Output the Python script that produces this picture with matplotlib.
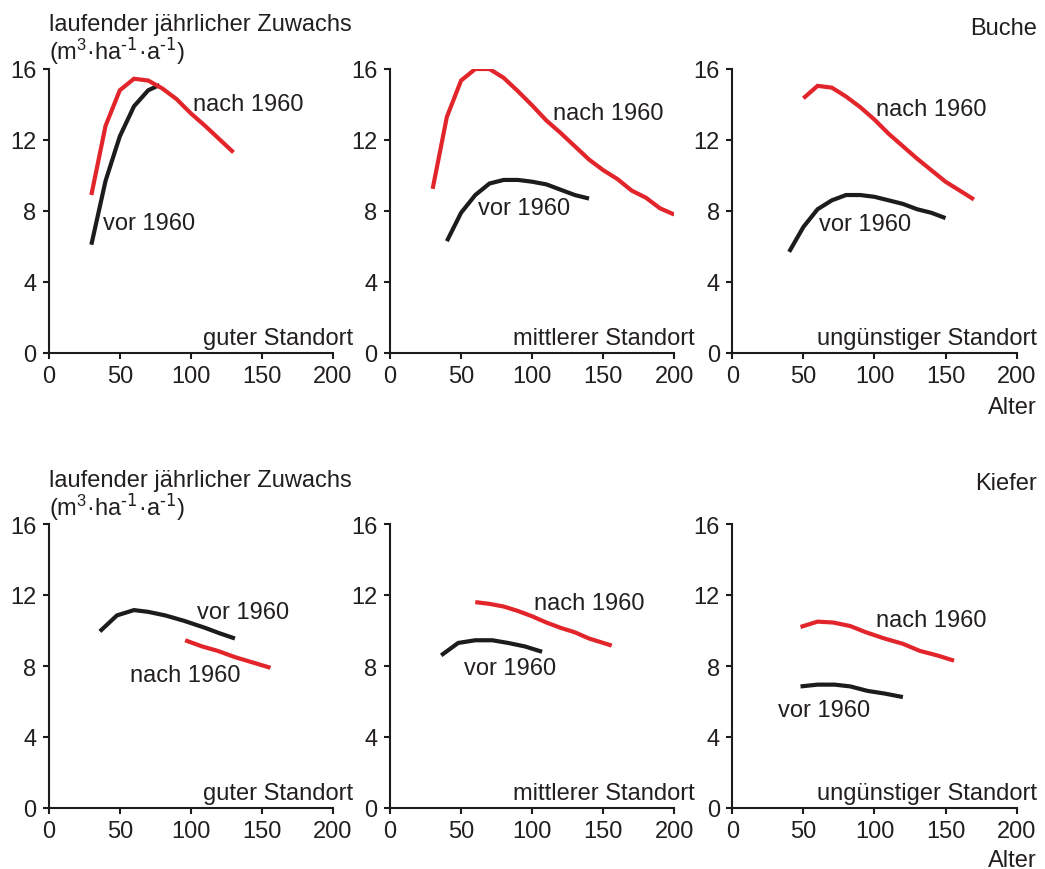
import matplotlib
matplotlib.use("Agg")
import matplotlib.pyplot as plt

plt.rcParams["font.family"] = ["Liberation Sans", "DejaVu Sans"]
plt.rcParams["mathtext.default"] = "regular"

RED = "#e2252b"
BLACK = "#1c1c1c"
TEXT = "#231f20"

# Age (years) and current annual increment (m3/ha/a)
buche_gut_vor_x = [30, 40, 50, 60, 70, 78]
buche_gut_vor_y = [6.1, 9.7, 12.2, 13.9, 14.8, 15.1]
buche_gut_nach_x = [30, 40, 50, 60, 70, 80, 90, 100, 110, 120, 130]
buche_gut_nach_y = [8.9, 12.8, 14.8, 15.45, 15.35, 14.9, 14.3, 13.5, 12.8, 12.05, 11.3]

buche_mittel_vor_x = [40, 50, 60, 70, 80, 90, 100, 110, 120, 130, 140]
buche_mittel_vor_y = [6.3, 7.9, 8.9, 9.55, 9.75, 9.75, 9.65, 9.5, 9.2, 8.9, 8.7]
buche_mittel_nach_x = [30, 40, 50, 60, 70, 80, 90, 100, 110, 120, 130, 140,
                       150, 160, 170, 180, 190, 200]
buche_mittel_nach_y = [9.25, 13.3, 15.35, 16.0, 16.0, 15.5, 14.75, 13.95, 13.1,
                       12.4, 11.65, 10.9, 10.3, 9.8, 9.15, 8.75, 8.15, 7.8]

buche_ungu_vor_x = [40, 50, 60, 70, 80, 90, 100, 110, 120, 130, 140, 150]
buche_ungu_vor_y = [5.7, 7.1, 8.1, 8.6, 8.9, 8.9, 8.8, 8.6, 8.4, 8.1, 7.9, 7.6]
buche_ungu_nach_x = [50, 60, 70, 80, 90, 100, 110, 120, 130, 140, 150, 160, 170]
buche_ungu_nach_y = [14.35, 15.05, 14.95, 14.45, 13.85, 13.15, 12.35, 11.65,
                     10.95, 10.3, 9.65, 9.15, 8.65]

kiefer_gut_vor_x = [36, 48, 60, 70, 82, 95, 110, 120, 131]
kiefer_gut_vor_y = [9.95, 10.85, 11.15, 11.05, 10.85, 10.55, 10.15, 9.85, 9.55]
kiefer_gut_nach_x = [96, 108, 119, 131, 156]
kiefer_gut_nach_y = [9.45, 9.1, 8.85, 8.5, 7.9]

kiefer_mittel_vor_x = [36, 48, 60, 72, 83, 95, 107]
kiefer_mittel_vor_y = [8.6, 9.3, 9.45, 9.45, 9.3, 9.1, 8.8]
kiefer_mittel_nach_x = [60, 70, 80, 90, 100, 110, 120, 130, 140, 150, 156]
kiefer_mittel_nach_y = [11.6, 11.5, 11.35, 11.1, 10.8, 10.45, 10.15, 9.9, 9.55,
                        9.3, 9.15]

kiefer_ungu_vor_x = [48, 60, 72, 83, 95, 107, 120]
kiefer_ungu_vor_y = [6.85, 6.95, 6.95, 6.85, 6.6, 6.45, 6.25]
kiefer_ungu_nach_x = [48, 60, 71, 83, 94, 107, 120, 132, 144, 156]
kiefer_ungu_nach_y = [10.2, 10.5, 10.45, 10.25, 9.9, 9.55, 9.25, 8.85, 8.6, 8.3]

x_ticks = [0, 50, 100, 150, 200]
y_ticks = [0, 4, 8, 12, 16]
standorte = ["guter Standort", "mittlerer Standort", "ungünstiger Standort"]
arten = ["Buche", "Kiefer"]
ylabel_lines = ["laufender jährlicher Zuwachs",
                r"(m$^{3}$·ha$^{\text{-1}}$·a$^{\text{-1}}$)"]
label_vor = "vor 1960"
label_nach = "nach 1960"

panels = [
    [(buche_gut_vor_x, buche_gut_vor_y, buche_gut_nach_x, buche_gut_nach_y),
     (buche_mittel_vor_x, buche_mittel_vor_y, buche_mittel_nach_x, buche_mittel_nach_y),
     (buche_ungu_vor_x, buche_ungu_vor_y, buche_ungu_nach_x, buche_ungu_nach_y)],
    [(kiefer_gut_vor_x, kiefer_gut_vor_y, kiefer_gut_nach_x, kiefer_gut_nach_y),
     (kiefer_mittel_vor_x, kiefer_mittel_vor_y, kiefer_mittel_nach_x, kiefer_mittel_nach_y),
     (kiefer_ungu_vor_x, kiefer_ungu_vor_y, kiefer_ungu_nach_x, kiefer_ungu_nach_y)],
]

# curve label anchors (left edge, baseline) in data units per panel
label_pos = [
    [((38.2, 7.0), (101.5, 13.67)),
     ((62.1, 7.82), (114.5, 13.17)),
     ((61.2, 6.92), (100.9, 13.42))],
    [((104.1, 10.69), (57.2, 7.17)),
     ((52.1, 7.54), (101.5, 11.2)),
     ((32.4, 5.19), (100.9, 10.26))],
]

W, H = 1045, 870
fig = plt.figure(figsize=(W / 100, H / 100), dpi=100)
FS = 17

ax_left_px = [48.7, 390.0, 732.3]
ax_bottom_px = [354.0, 809.0]
ax_w_px, ax_h_px = 284.3, 284.0

for r in range(2):
    for c in range(3):
        ax = fig.add_axes([ax_left_px[c] / W, 1 - ax_bottom_px[r] / H,
                           ax_w_px / W, ax_h_px / H])
        vx, vy, nx, ny = panels[r][c]
        ax.plot(vx, vy, color=BLACK, lw=3.0, solid_joinstyle="miter",
                solid_capstyle="butt")
        ax.plot(nx, ny, color=RED, lw=3.0, solid_joinstyle="miter",
                solid_capstyle="butt")
        ax.set_xlim(0, 200)
        ax.set_ylim(0, 16)
        ax.set_xticks(x_ticks)
        ax.set_yticks(y_ticks)
        for s in ("top", "right"):
            ax.spines[s].set_visible(False)
        for s in ("left", "bottom"):
            ax.spines[s].set_linewidth(1.5)
            ax.spines[s].set_color(BLACK)
        ax.tick_params(direction="out", length=4, width=1.5, colors=BLACK,
                       labelcolor=TEXT, labelsize=FS, pad=5)
        ax.patch.set_visible(False)
        (vpos, npos) = label_pos[r][c]
        ax.text(vpos[0], vpos[1], label_vor, fontsize=FS, color=TEXT,
                ha="left", va="baseline")
        ax.text(npos[0], npos[1], label_nach, fontsize=FS, color=TEXT,
                ha="left", va="baseline")
        ax.text(214.5, 0.5, standorte[c], fontsize=FS, color=TEXT,
                ha="right", va="baseline", clip_on=False)


def ftext(px, py, s, **kw):
    fig.text(px / W, 1 - py / H, s, fontsize=FS, color=TEXT,
             va="baseline", **kw)


for r, (top, arten_py, alter_py) in enumerate([(31.5, 35.0, 413.5),
                                               (487.0, 490.0, 867.0)]):
    ftext(49, top, ylabel_lines[0], ha="left")
    ftext(49, top + 28.5, ylabel_lines[1], ha="left")
    ftext(1037, arten_py, arten[r], ha="right")
    ftext(1037, alter_py, "Alter", ha="right")

fig.savefig("out.png", dpi=100)
